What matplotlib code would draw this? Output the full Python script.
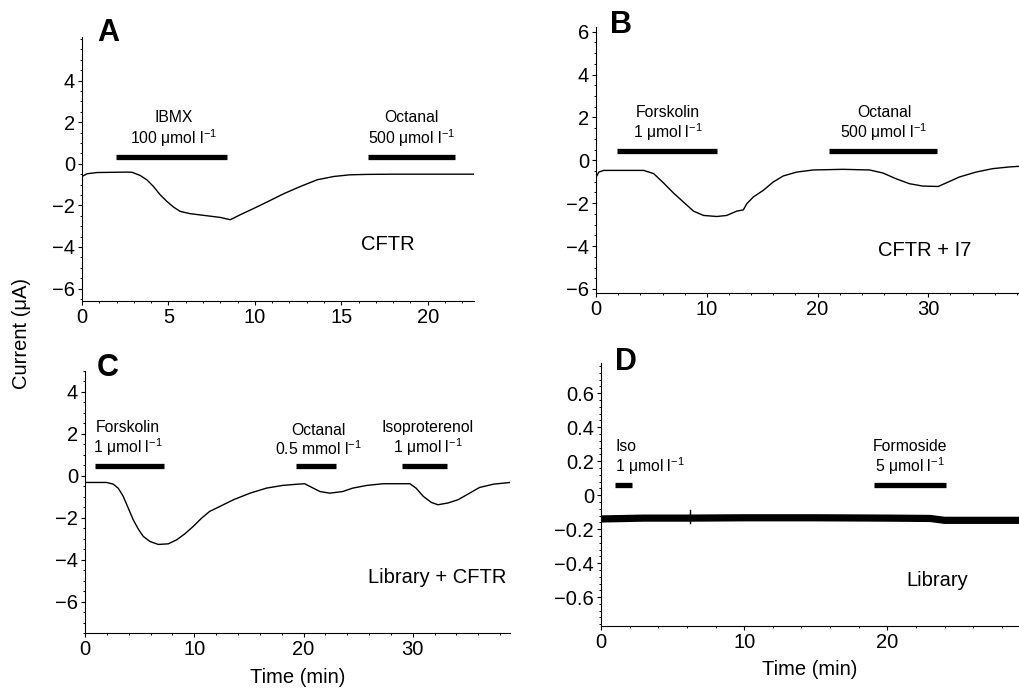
import matplotlib
matplotlib.use("Agg")
import matplotlib.pyplot as plt
from matplotlib.ticker import MultipleLocator

plt.rcParams['font.family'] = ['Liberation Sans', 'DejaVu Sans']
plt.rcParams['mathtext.fontset'] = 'custom'
plt.rcParams['mathtext.rm'] = 'Liberation Sans'
plt.rcParams['mathtext.it'] = 'Liberation Sans'
plt.rcParams['axes.unicode_minus'] = True

# Panel A: CFTR
a_time = [0, 0.29, 0.87, 2.6, 2.9, 3.36, 3.75, 4.13, 4.52, 4.91, 5.29, 5.68, 6.26, 7.23,
          8.0, 8.58, 9.16, 9.93, 10.7, 11.67, 12.64, 13.6, 14.57, 15.5, 16.5, 18, 20, 22.7]
a_curr = [-0.61, -0.48, -0.42, -0.4, -0.41, -0.56, -0.77, -1.09, -1.49, -1.81, -2.08,
          -2.29, -2.4, -2.5, -2.58, -2.69, -2.45, -2.15, -1.84, -1.44, -1.09, -0.77,
          -0.61, -0.53, -0.51, -0.5, -0.5, -0.5]

# Panel B: CFTR + I7
b_time = [0, 0.24, 0.69, 4.3, 5.2, 6.1, 7.0, 7.9, 8.8, 9.7, 10.9, 11.8, 12.7, 13.3, 13.6,
          14.2, 15.1, 16.0, 16.9, 18.1, 19.6, 22.3, 24.7, 25.9, 27.1, 28.3, 29.5, 30.9,
          31.6, 32.8, 34.3, 35.8, 37.3, 38.2]
b_curr = [-0.78, -0.55, -0.47, -0.47, -0.62, -1.06, -1.53, -1.95, -2.37, -2.57, -2.62,
          -2.57, -2.37, -2.31, -2.03, -1.71, -1.4, -1.01, -0.73, -0.55, -0.45, -0.42,
          -0.45, -0.59, -0.86, -1.09, -1.2, -1.22, -1.06, -0.78, -0.55, -0.39, -0.31, -0.28]

# Panel C: Library + CFTR
c_time = [0, 1.98, 2.59, 3.05, 3.5, 3.96, 4.42, 4.88, 5.34, 5.95, 6.71, 7.62, 8.39, 9.15,
          9.91, 10.67, 11.4, 12.35, 13.6, 15.1, 16.6, 18.1, 19.5, 20.1, 20.7, 21.5, 22.4,
          23.6, 24.5, 25.8, 27.3, 29.74, 30.3, 30.96, 31.7, 32.3, 33.2, 34.15, 35.1, 36.1,
          37.4, 38.9]
c_curr = [-0.32, -0.32, -0.4, -0.6, -0.98, -1.54, -2.1, -2.54, -2.89, -3.13, -3.27, -3.24,
          -3.05, -2.76, -2.41, -2.02, -1.7, -1.46, -1.14, -0.83, -0.59, -0.46, -0.4, -0.38,
          -0.54, -0.75, -0.83, -0.75, -0.59, -0.46, -0.38, -0.38, -0.59, -0.98, -1.27,
          -1.38, -1.3, -1.14, -0.86, -0.56, -0.4, -0.32]

# Panel D: Library (noisy band drawn as a thick trace)
d_time = [0, 3, 6.1, 10, 15, 20, 23.0, 24.0, 29.2]
d_curr = [-0.14, -0.135, -0.135, -0.133, -0.133, -0.135, -0.137, -0.148, -0.148]
d_spike_time = [6.2, 6.2]
d_spike_curr = [-0.085, -0.165]

# drug application bars: (start, end)
a_bars = [(1.97, 8.39), (16.56, 21.6)]
b_bars = [(1.93, 10.96), (21.08, 30.8)]
c_bars = [(0.91, 7.23), (19.3, 22.96), (29.0, 33.15)]
d_bars = [(0.98, 2.14), (19.04, 24.1)]

U = "\u03bcmol l$^{-1}$"
a_labels = [("IBMX\n100 " + U, 5.3), ("Octanal\n500 " + U, 19.05)]
b_labels = [("Forskolin\n1 " + U, 6.47), ("Octanal\n500 " + U, 26.0)]
c_labels = [("Forskolin\n1 " + U, 3.96), ("Octanal\n0.5 mmol l$^{-1}$", 21.4),
            ("Isoproterenol\n1 " + U, 31.35)]
d_labels = [("Formoside\n5 " + U, 21.6)]

fig = plt.figure(figsize=(10.19, 6.94), dpi=100)
axA = fig.add_axes([0.0805, 0.5663, 0.385, 0.3804])
axB = fig.add_axes([0.585, 0.5774, 0.415, 0.3841])
axC = fig.add_axes([0.0834, 0.0874, 0.4171, 0.3785])
axD = fig.add_axes([0.5898, 0.0980, 0.4102, 0.3794])


def style(ax, xmax, ylim, xmaj, xmin, ymaj, ymin):
    ax.set_xlim(0, xmax)
    ax.set_ylim(*ylim)
    for s in ['top', 'right']:
        ax.spines[s].set_visible(False)
    for s in ['left', 'bottom']:
        ax.spines[s].set_linewidth(0.8)
    ax.xaxis.set_major_locator(MultipleLocator(xmaj))
    ax.xaxis.set_minor_locator(MultipleLocator(xmin))
    ax.yaxis.set_major_locator(MultipleLocator(ymaj))
    ax.yaxis.set_minor_locator(MultipleLocator(ymin))
    ax.tick_params(which='major', direction='out', length=3, width=0.8,
                   labelsize=14.5, pad=2)
    ax.tick_params(which='minor', direction='out', length=1.6, width=0.7)


def bars(ax, segs, y, labels, ly, fs=11.3):
    for x0, x1 in segs:
        ax.plot([x0, x1], [y, y], color='black', lw=3.8, solid_capstyle='butt')
    for txt, x in labels:
        ax.text(x, ly, txt, ha='center', va='bottom', fontsize=fs, linespacing=1.1)


# A
axA.plot(a_time, a_curr, color='black', lw=1.0)
style(axA, 22.7, (-6.6, 6.1), 5, 1, 2, 0.5)
axA.set_yticks([-6, -4, -2, 0, 2, 4])
bars(axA, a_bars, 0.35, a_labels, 0.72)
axA.text(17.7, -3.9, "CFTR", fontsize=14.5, ha='center', va='center')

# B
axB.plot(b_time, b_curr, color='black', lw=1.0)
style(axB, 38.2, (-6.2, 6.23), 10, 2, 2, 0.5)
bars(axB, b_bars, 0.43, b_labels, 0.8)
axB.text(29.7, -4.2, "CFTR + I7", fontsize=14.5, ha='center', va='center')

# C
axC.plot(c_time, c_curr, color='black', lw=1.0)
style(axC, 38.9, (-7.5, 5.0), 10, 2, 2, 0.5)
axC.set_yticks([-6, -4, -2, 0, 2, 4])
bars(axC, c_bars, 0.48, c_labels, 0.83)
axC.text(32.2, -4.83, "Library + CFTR", fontsize=14.5, ha='center', va='center')
axC.set_xlabel("Time (min)", fontsize=14.5, labelpad=6)

# D
axD.plot(d_time, d_curr, color='black', lw=5.2)
axD.plot(d_spike_time, d_spike_curr, color='black', lw=1.0)
style(axD, 29.2, (-0.77, 0.78), 10, 2, 0.2, 0.04)
axD.set_yticks([-0.6, -0.4, -0.2, 0, 0.2, 0.4, 0.6])
axD.set_yticklabels(['\u22120.6', '\u22120.4', '\u22120.2', '0', '0.2', '0.4', '0.6'])
bars(axD, d_bars, 0.06, d_labels, 0.105)
axD.text(0.98, 0.105, "Iso\n1 " + U, ha='left', va='bottom', fontsize=11.3, linespacing=1.1)
axD.text(23.5, -0.5, "Library", fontsize=14.5, ha='center', va='center')
axD.set_xlabel("Time (min)", fontsize=14.5, labelpad=6)

# panel letters
for lab, x, y in [("A", 0.095, 0.952), ("B", 0.599, 0.964),
                  ("C", 0.095, 0.470), ("D", 0.6035, 0.478)]:
    fig.text(x, y, lab, fontsize=22, fontweight='bold', ha='left', va='center')

fig.text(0.021, 0.52, "Current (\u03bcA)", rotation=90, fontsize=14.5,
         ha='center', va='center')

fig.savefig("out.png", dpi=100)
